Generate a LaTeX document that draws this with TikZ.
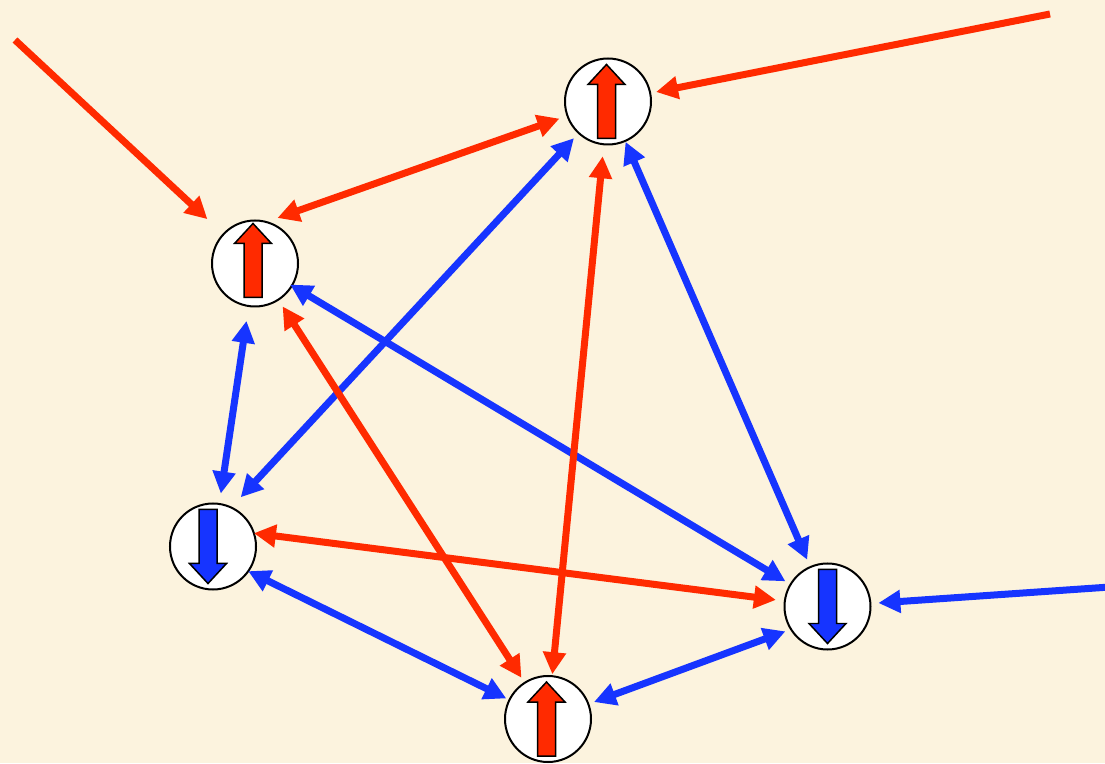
\documentclass[tikz,border=0pt]{standalone}
\usetikzlibrary{arrows.meta}

\definecolor{paper}{RGB}{252,243,222}
\definecolor{spinred}{RGB}{255,42,0}
\definecolor{spinblue}{RGB}{22,52,255}

\tikzset{
  site/.style={circle, draw=black, line width=0.04cm, fill=white, minimum size=1.72cm, inner sep=0pt, outer sep=0pt},
  bond/.style={line width=0.14cm, >={Triangle[length=0.44cm,width=0.44cm]}},
  redbond/.style={bond, draw=spinred},
  bluebond/.style={bond, draw=spinblue},
  spinup/.pic={
    \filldraw[fill=spinred, draw=black, line width=0.03cm]
      (-0.18,-0.74) -- (-0.18,0.34) -- (-0.37,0.34) -- (0,0.74) -- (0.37,0.34) -- (0.18,0.34) -- (0.18,-0.74) -- cycle;
  },
  spindown/.pic={
    \filldraw[fill=spinblue, draw=black, line width=0.03cm]
      (-0.18,0.74) -- (-0.18,-0.34) -- (-0.37,-0.34) -- (0,-0.74) -- (0.37,-0.34) -- (0.18,-0.34) -- (0.18,0.74) -- cycle;
  }
}

\begin{document}
\begin{tikzpicture}
                \fill[paper] (0, 0) rectangle (22.1, 15.26);
                \useasboundingbox (0, 0) rectangle (22.1, 15.26);

                \node[site] (A) at (12.16, 13.23) {};
                \node[site] (B) at (5.10, 9.99) {};
                \node[site] (C) at (4.26, 4.33) {};
                \node[site] (D) at (16.55, 3.13) {};
                \node[site] (E) at (10.96, 0.88) {};

                \pic at ([xshift=-0.03cm]A) {spinup};
                \pic at ([xshift=-0.04cm, yshift=0.06cm]B) {spinup};
                \pic at ([xshift=-0.1cm]C) {spindown};
                \pic at (D) {spindown};
                \pic at ([xshift=-0.03cm]E) {spinup};

                \coordinate (inB) at (0.30, 14.46);
                \coordinate (inA) at (21.00, 14.98);
                \coordinate (inD) at (22.20, 3.52);

                % blue bonds first, the red ones lie on top
                \draw[bluebond, ->, shorten >=0.16cm] (inD) -- (D);
                \draw[bluebond, <->, shorten <=0.14cm, shorten >=0.28cm] (A) -- (C.65);
                \draw[bluebond, <->, shorten <=0.02cm, shorten >=0.16cm] (A) -- (D);
                \draw[bluebond, <->, shorten <=0.30cm, shorten >=0.21cm] (B) -- (C);
                \draw[bluebond, <->, shorten <=-0.04cm, shorten >=0.12cm] (B) -- (D);
                \draw[bluebond, <->, shorten <=0cm, shorten >=0.07cm] (C.-35) -- (E);
                \draw[bluebond, <->, shorten <=0.12cm, shorten >=0.12cm] (E) -- (D.212);

                \draw[redbond, ->, shorten >=0.44cm] (inB) -- (B);
                \draw[redbond, ->, shorten >=0.12cm] (inA) -- (A);
                \draw[redbond, <->, shorten <=0.17cm, shorten >=0.24cm] (A) -- (B.75);
                \draw[redbond, <->, shorten <=0.24cm, shorten >=0.04cm] (A) -- (E);
                \draw[redbond, <->, shorten <=0.16cm, shorten >=0.12cm] (B) -- (E);
                \draw[redbond, <->, shorten <=0cm, shorten >=0.18cm] (C.18) -- (D);
            \end{tikzpicture}
\end{document}
